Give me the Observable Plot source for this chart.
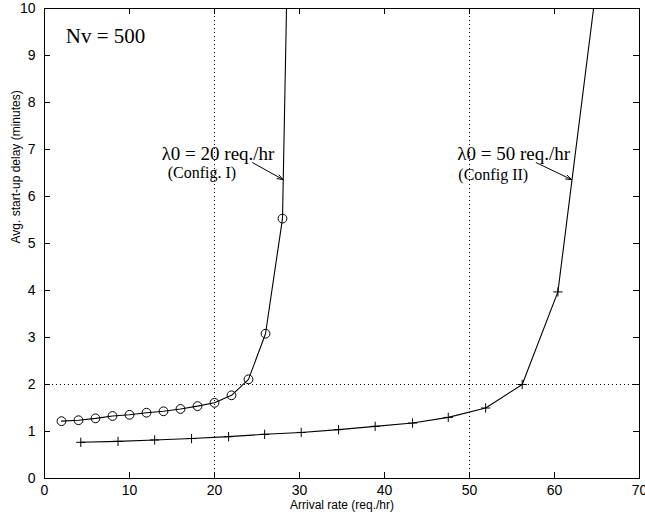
<!DOCTYPE html>
<html><head><meta charset="utf-8">
<script src="https://cdn.jsdelivr.net/npm/d3@7"></script>
<script src="https://cdn.jsdelivr.net/npm/@observablehq/plot@0.6"></script>
<style>body{margin:0;background:#fff}</style>
</head><body><div id="chart"></div>
<script>
// Config I (circles), lambda0 = 20 req./hr
const cfg1X = [2, 4, 6, 8, 10, 12, 14, 16, 18, 20, 22, 24, 26, 28, 30];
const cfg1Y = [1.22, 1.24, 1.28, 1.33, 1.355, 1.40, 1.43, 1.48, 1.54, 1.61, 1.77, 2.11, 3.08, 5.53, 24.5];
// Config II (plus), lambda0 = 50 req./hr
const cfg2X = [4.27, 8.65, 12.96, 17.3, 21.66, 25.9, 30.2, 34.6, 38.9, 43.3, 47.5, 51.9, 56.2, 60.4, 65.5];
const cfg2Y = [0.77, 0.79, 0.82, 0.85, 0.89, 0.94, 0.98, 1.04, 1.11, 1.18, 1.30, 1.50, 2.00, 3.97, 11.3];
const xTicks = [0, 10, 20, 30, 40, 50, 60, 70];
const yTicks = [0, 1, 2, 3, 4, 5, 6, 7, 8, 9, 10];
const refX = [20, 50];
const refY = [2];
// annotations (data coordinates)
const titleText = ["Nv = 500"];
const titleX = [2.5];
const titleY = [9.26];
const lamText = ["λ0 = 20 req./hr", "λ0 = 50 req./hr"];
const lamX = [13.78, 48.57];
const lamY = [6.77, 6.77];
const cfgText = ["(Config. I)", "(Config II)"];
const cfgX = [14.49, 48.69];
const cfgY = [6.40, 6.36];
const arrowX1 = [24.48, 57.85];
const arrowY1 = [6.72, 6.72];
const arrowX2 = [28.06, 62.0];
const arrowY2 = [6.36, 6.36];
const xLabel = "Arrival rate (req./hr)";
const yLabel = "Avg. start-up delay (minutes)";

const d1 = cfg1X.map((x, i) => ({x, y: cfg1Y[i]}));
const d2 = cfg2X.map((x, i) => ({x, y: cfg2Y[i]}));
const ann = (t, xs, ys) => t.map((s, i) => ({s, x: xs[i], y: ys[i]}));
const arrows = arrowX1.map((x1, i) => ({x1, y1: arrowY1[i], x2: arrowX2[i], y2: arrowY2[i]}));

const W = 645, H = 516, mT = 8, mB = 38, mL = 44, mR = 6;
const innerH = H - mT - mB, innerW = W - mL - mR;
const serif = "Liberation Serif, Times New Roman, serif";

const chart = Plot.plot({
  width: W, height: H,
  marginTop: mT, marginBottom: mB, marginLeft: mL, marginRight: mR,
  style: {fontFamily: "Liberation Sans, Helvetica, Arial, sans-serif", fontSize: "14px", background: "#fff", color: "#000"},
  x: {domain: [0, 70], ticks: xTicks},
  y: {domain: [0, 10], ticks: yTicks},
  marks: [
    Plot.ruleX(refX, {x: d => d, stroke: "#000", strokeWidth: 1, strokeDasharray: "1,3"}),
    Plot.ruleY(refY, {y: d => d, stroke: "#000", strokeWidth: 1, strokeDasharray: "1,3"}),
    Plot.line(d1, {x: "x", y: "y", stroke: "#000", strokeWidth: 1.1, clip: true}),
    Plot.line(d2, {x: "x", y: "y", stroke: "#000", strokeWidth: 1.1, clip: true}),
    Plot.dot(d1, {x: "x", y: "y", r: 4.4, stroke: "#000", fill: "none", strokeWidth: 1, clip: true}),
    Plot.dot(d2, {x: "x", y: "y", symbol: "plus", r: 3.1, stroke: "#000", strokeWidth: 1, clip: true}),
    Plot.frame({stroke: "#000", strokeWidth: 1}),
    Plot.tickX(xTicks.slice(1, -1), {x: d => d, insetTop: innerH - 6, stroke: "#000"}),
    Plot.tickX(xTicks.slice(1, -1), {x: d => d, insetBottom: innerH - 6, stroke: "#000"}),
    Plot.tickY(yTicks.slice(1, -1), {y: d => d, insetRight: innerW - 6, stroke: "#000"}),
    Plot.tickY(yTicks.slice(1, -1), {y: d => d, insetLeft: innerW - 6, stroke: "#000"}),
    Plot.axisX({ticks: xTicks, tickSize: 0, tickPadding: 7, label: null, fontSize: 14}),
    Plot.axisY({ticks: yTicks, tickSize: 0, tickPadding: 9, label: null, fontSize: 14}),
    Plot.text([xLabel], {frameAnchor: "bottom", dy: 30, lineAnchor: "bottom", fontSize: 12}),
    Plot.text([yLabel], {frameAnchor: "left", dx: -28, rotate: -90, fontSize: 12}),
    Plot.text(ann(titleText, titleX, titleY), {x: "x", y: "y", text: "s", textAnchor: "start", lineAnchor: "bottom", fontFamily: serif, fontSize: 21}),
    Plot.text(ann(lamText, lamX, lamY), {x: "x", y: "y", text: "s", textAnchor: "start", lineAnchor: "bottom", fontFamily: serif, fontSize: 19}),
    Plot.text(ann(cfgText, cfgX, cfgY), {x: "x", y: "y", text: "s", textAnchor: "start", lineAnchor: "bottom", fontFamily: serif, fontSize: 16}),
    Plot.arrow(arrows, {x1: "x1", y1: "y1", x2: "x2", y2: "y2", stroke: "#000", strokeWidth: 1, headLength: 9, headAngle: 40})
  ]
});
document.getElementById("chart").appendChild(chart);
</script>
</body></html>
